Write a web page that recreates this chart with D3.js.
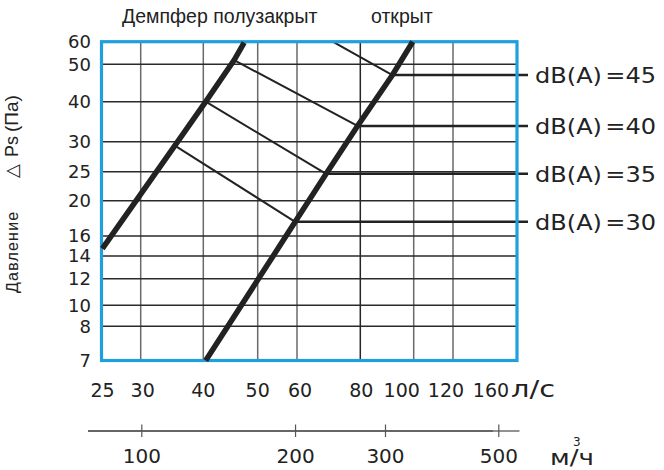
<!DOCTYPE html>
<html>
<head>
<meta charset="utf-8">
<script src="https://cdn.jsdelivr.net/npm/d3@7"></script>
<style>
  html, body { margin: 0; padding: 0; background: #fff; }
  svg { display: block; }
</style>
</head>
<body>
<svg id="chart" width="664" height="470"></svg>
<script>
// Flow rate grid (l/s), pressure grid (Pa) and the secondary airflow scale (m3/h)
const flowTicks = [25, 30, 40, 50, 60, 80, 100, 120, 160];
const pressureTicks = [7, 8, 10, 12, 14, 16, 20, 25, 30, 40, 50, 60];
const airflowTicks = [100, 200, 300, 500];

// Damper characteristic lines: flow (l/s), static pressure (Pa)
const halfClosedFlow = [25.1, 35.1, 40.4, 45.4, 47.3];
const halfClosedPressure = [14.7, 29.3, 40.0, 51.7, 59.6];
const openFlow = [40.4, 59.5, 68.5, 79.0, 91.5, 99.6];
const openPressure = [7.0, 17.5, 24.6, 33.6, 46.9, 60.0];

// Equal-noise lines dB(A): from the half-closed line to the open line
const noiseLevels = [30, 35, 40, 45];
const noiseStartFlow = [35.1, 40.4, 45.4, 71.0];
const noiseStartPressure = [29.3, 40.0, 51.7, 59.7];
const noiseEndFlow = [59.5, 68.5, 79.0, 91.5];
const noiseEndPressure = [17.5, 24.6, 33.6, 46.9];

// ---- layout ----
const svg = d3.select("#chart");
const frame = { left: 101.5, right: 517, top: 41.7, bottom: 360.5 };
// The printed grid is not perfectly logarithmic, so each labelled grid line
// gets its own anchor and the scale is log-interpolated between them.
const xGridPx = [101.5, 140.7, 203.3, 257.7, 297, 360.3, 413.7, 453, 517];
const yGridPx = [360.5, 326.3, 305.3, 278.7, 256, 236, 200.7, 171.7, 141.7, 101.7, 64.3, 41.7];

const x = d3.scaleLog().domain(flowTicks).range(xGridPx);
const y = d3.scaleLog().domain(pressureTicks).range(yGridPx);
const xm3 = d3.scaleLog().domain([100, 500]).range([141.8, 498.8]);

const zip = (a, b) => a.map((v, i) => [v, b[i]]);
const line = d3.line().x(d => x(d[0])).y(d => y(d[1]));

const ink = "#222";
const blue = "#1f9fdd";
const numFont = "DejaVu Sans, sans-serif";
const textFont = "Liberation Sans, Arial, sans-serif";

// ---- grid ----
const grid = svg.append("g");
grid.selectAll("line.v").data(flowTicks.slice(1, -1)).join("line")
  .attr("x1", d => x(d)).attr("x2", d => x(d))
  .attr("y1", frame.top).attr("y2", frame.bottom)
  .attr("stroke", d => d === 80 ? "#262626" : "#6a6a6a")
  .attr("stroke-width", 1.5);
grid.selectAll("line.h").data(pressureTicks.slice(1, -1)).join("line")
  .attr("x1", frame.left).attr("x2", frame.right)
  .attr("y1", d => y(d)).attr("y2", d => y(d))
  .attr("stroke", "#2a2a2a")
  .attr("stroke-width", 1.6);

// ---- noise lines ----
const noise = svg.append("g").attr("stroke", ink).attr("fill", "none");
noiseLevels.forEach((lvl, i) => {
  noise.append("path")
    .attr("d", line([[noiseStartFlow[i], noiseStartPressure[i]], [noiseEndFlow[i], noiseEndPressure[i]]]))
    .attr("stroke-width", 2);
  const yy = y(noiseEndPressure[i]);
  noise.append("line")
    .attr("x1", x(noiseEndFlow[i])).attr("x2", frame.right + 11)
    .attr("y1", yy).attr("y2", yy)
    .attr("stroke-width", 2.6);
  svg.append("text")
    .attr("x", 535).attr("y", yy).attr("dy", "0.36em")
    .attr("font-family", numFont).attr("font-size", 22)
    .attr("word-spacing", -4)
    .attr("textLength", 121).attr("lengthAdjust", "spacingAndGlyphs")
    .attr("fill", ink)
    .text(`dB(A) =${lvl}`);
});

// ---- frame ----
svg.append("rect")
  .attr("x", frame.left).attr("y", frame.top)
  .attr("width", frame.right - frame.left).attr("height", frame.bottom - frame.top)
  .attr("fill", "none").attr("stroke", blue).attr("stroke-width", 3.2);

// ---- damper lines ----
svg.append("path").attr("d", line(zip(halfClosedFlow, halfClosedPressure)))
  .attr("fill", "none").attr("stroke", ink).attr("stroke-width", 5.5);
svg.append("path").attr("d", line(zip(openFlow, openPressure)))
  .attr("fill", "none").attr("stroke", ink).attr("stroke-width", 5.5);

// ---- y tick labels ----
svg.append("g").selectAll("text").data(pressureTicks).join("text")
  .attr("x", 91).attr("y", d => y(d)).attr("dy", "0.36em")
  .attr("text-anchor", "end")
  .attr("font-family", numFont).attr("font-size", 18).attr("fill", ink)
  .text(d => d);

// ---- x tick labels (l/s) ----
const labelNudge = { 25: 1, 30: 2, 60: 3, 80: 1, 100: -12, 120: -7, 160: -26 };
svg.append("g").selectAll("text").data(flowTicks).join("text")
  .attr("x", d => x(d) + (labelNudge[d] || 0)).attr("y", 397)
  .attr("text-anchor", "middle")
  .attr("font-family", numFont).attr("font-size", 19).attr("fill", ink)
  .text(d => d);
svg.append("text").attr("x", 511).attr("y", 397)
  .attr("font-family", numFont).attr("font-size", 23).attr("fill", ink)
  .attr("textLength", 44).attr("lengthAdjust", "spacingAndGlyphs")
  .text("л/с");

// ---- secondary axis (m3/h) ----
const m3 = svg.append("g");
m3.append("line").attr("x1", 88).attr("x2", 493).attr("y1", 431).attr("y2", 431)
  .attr("stroke", "#333").attr("stroke-width", 1.6);
m3.append("line").attr("x1", 493).attr("x2", 519.5).attr("y1", 431).attr("y2", 431)
  .attr("stroke", "#777").attr("stroke-width", 1.6);
m3.selectAll("line.t").data(airflowTicks).join("line")
  .attr("x1", d => xm3(d)).attr("x2", d => xm3(d))
  .attr("y1", 424.5).attr("y2", 437)
  .attr("stroke", "#555").attr("stroke-width", 1.2);
m3.selectAll("text").data(airflowTicks).join("text")
  .attr("x", d => xm3(d)).attr("y", 463)
  .attr("text-anchor", "middle")
  .attr("font-family", numFont).attr("font-size", 20).attr("fill", ink)
  .text(d => d);
svg.append("text").attr("x", 550).attr("y", 465)
  .attr("font-family", numFont).attr("font-size", 21).attr("fill", ink)
  .attr("textLength", 44).attr("lengthAdjust", "spacingAndGlyphs")
  .text("м/ч");
svg.append("text").attr("x", 573).attr("y", 446)
  .attr("font-family", numFont).attr("font-size", 12).attr("fill", ink)
  .text("3");

// ---- titles ----
svg.append("text").attr("x", 122).attr("y", 23)
  .attr("font-family", textFont).attr("font-size", 19.5).attr("fill", ink)
  .text("Демпфер полузакрыт");
svg.append("text").attr("x", 371).attr("y", 23)
  .attr("font-family", textFont).attr("font-size", 19.5).attr("fill", ink)
  .text("открыт");

// Pressure axis title, read bottom-to-top
const yTitle = svg.append("g")
  .attr("transform", "translate(18,293) rotate(-90)")
  .attr("fill", ink);
yTitle.append("text").attr("x", 0)
  .attr("font-family", textFont).attr("font-size", 16)
  .attr("letter-spacing", 1.2)
  .text("Давление");
yTitle.append("text").attr("x", 115)
  .attr("font-family", numFont).attr("font-size", 18)
  .text("△");
yTitle.append("text").attr("x", 136)
  .attr("font-family", textFont).attr("font-size", 18)
  .text("Ps");
yTitle.append("text").attr("x", 161)
  .attr("font-family", textFont).attr("font-size", 19)
  .text("(Па)");
</script>
</body>
</html>
